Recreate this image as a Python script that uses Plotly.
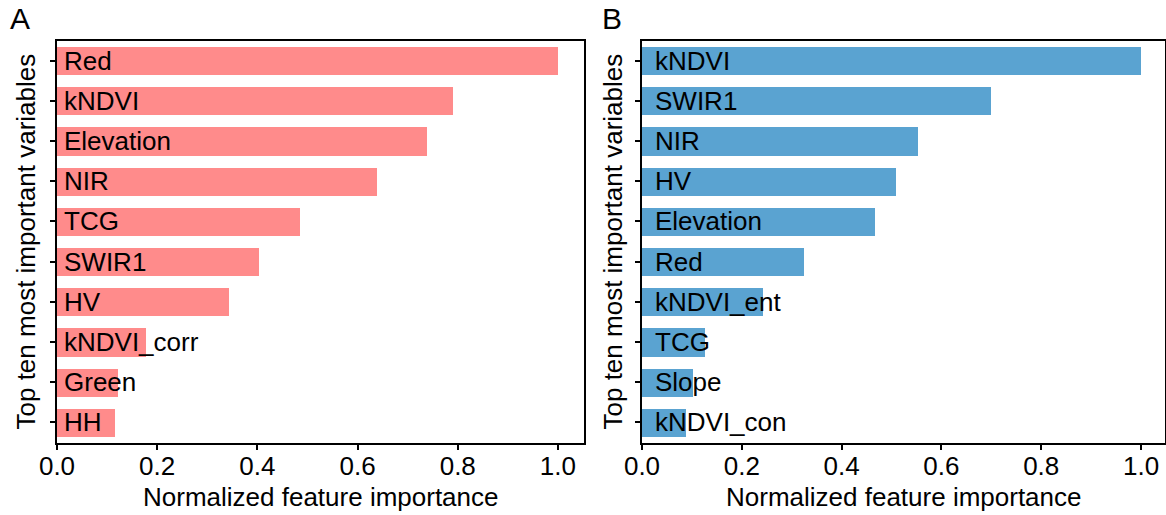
import plotly.graph_objects as go

# Panel A: top ten variables and their normalized importance (top to bottom)
vars_a = ["Red", "kNDVI", "Elevation", "NIR", "TCG", "SWIR1", "HV", "kNDVI_corr", "Green", "HH"]
imp_a = [1.0, 0.790, 0.739, 0.638, 0.485, 0.404, 0.343, 0.177, 0.122, 0.116]

# Panel B
vars_b = ["kNDVI", "SWIR1", "NIR", "HV", "Elevation", "Red", "kNDVI_ent", "TCG", "Slope", "kNDVI_con"]
imp_b = [1.0, 0.700, 0.553, 0.508, 0.466, 0.324, 0.243, 0.126, 0.103, 0.089]

x_ticks = [0.0, 0.2, 0.4, 0.6, 0.8, 1.0]
x_ticklabels = ["0.0", "0.2", "0.4", "0.6", "0.8", "1.0"]

W, H = 1166, 515
FONT = "Liberation Sans, Arial, sans-serif"
FS = 26
COL_A = "#ff8b8b"
COL_B = "#5aa3d1"

fig = go.Figure()

panels = [
    ("x", "y", vars_a, imp_a, COL_A, 5),
    ("x2", "y2", vars_b, imp_b, COL_B, 11),
]
for xa, ya, names, vals, col, shift in panels:
    pos = list(range(len(names)))
    fig.add_trace(go.Bar(
        x=vals, y=pos, orientation="h", width=0.7,
        marker=dict(color=col, line=dict(width=0)),
        xaxis=xa, yaxis=ya, showlegend=False, hoverinfo="x+text",
        hovertext=names,
    ))
    for p, n in zip(pos, names):
        fig.add_annotation(
            x=0, y=p, xref=xa, yref=ya, text=n, showarrow=False,
            xanchor="left", yanchor="middle", xshift=shift,
            font=dict(family=FONT, size=FS, color="black"),
        )

ydom = [(H - 442.5) / H, (H - 40.5) / H]
dom_a = [57 / W, 584 / W]
dom_b = [642 / W, 1165 / W]

axis_common = dict(
    showline=True, linecolor="black", linewidth=2, mirror=True,
    ticks="outside", ticklen=5, tickwidth=1.5, tickcolor="black",
    showgrid=False, zeroline=False, automargin=False,
)

fig.update_layout(
    width=W, height=H,
    margin=dict(l=0, r=0, t=0, b=0, autoexpand=False),
    paper_bgcolor="white", plot_bgcolor="white",
    bargap=0,
    font=dict(family=FONT, size=FS, color="black"),
    xaxis=dict(domain=dom_a, range=[0, 1.052], anchor="y",
               tickvals=x_ticks, ticktext=x_ticklabels, ticklabelstandoff=-6,
               tickfont=dict(size=FS), **axis_common),
    yaxis=dict(domain=ydom, range=[9.5, -0.5], anchor="x",
               tickvals=list(range(10)), showticklabels=False, **axis_common),
    xaxis2=dict(domain=dom_b, range=[0, 1.048], anchor="y2",
                tickvals=x_ticks, ticktext=x_ticklabels, ticklabelstandoff=-6,
                tickfont=dict(size=FS), **axis_common),
    yaxis2=dict(domain=ydom, range=[9.5, -0.5], anchor="x2",
                tickvals=list(range(10)), showticklabels=False, **axis_common),
)

# Axis titles and panel letters
for xc, txt in [((57 + 584) / 2 / W, "Normalized feature importance"),
                ((642 + 1165) / 2 / W, "Normalized feature importance")]:
    fig.add_annotation(x=xc, y=(H - 497) / H, xref="paper", yref="paper",
                       text=txt, showarrow=False, xanchor="center", yanchor="middle",
                       font=dict(family=FONT, size=FS, color="black"))

for xc in [25 / W, 612 / W]:
    fig.add_annotation(x=xc, y=(H - 241.5) / H, xref="paper", yref="paper",
                       text="Top ten most important variables", showarrow=False,
                       textangle=-90, xanchor="center", yanchor="middle",
                       font=dict(family=FONT, size=FS, color="black"))

for xc, letter in [(20 / W, "A"), (612 / W, "B")]:
    fig.add_annotation(x=xc, y=(H - 18) / H, xref="paper", yref="paper",
                       text=letter, showarrow=False, xanchor="center", yanchor="middle",
                       font=dict(family=FONT, size=30, color="black"))

fig.write_html("out.html")
